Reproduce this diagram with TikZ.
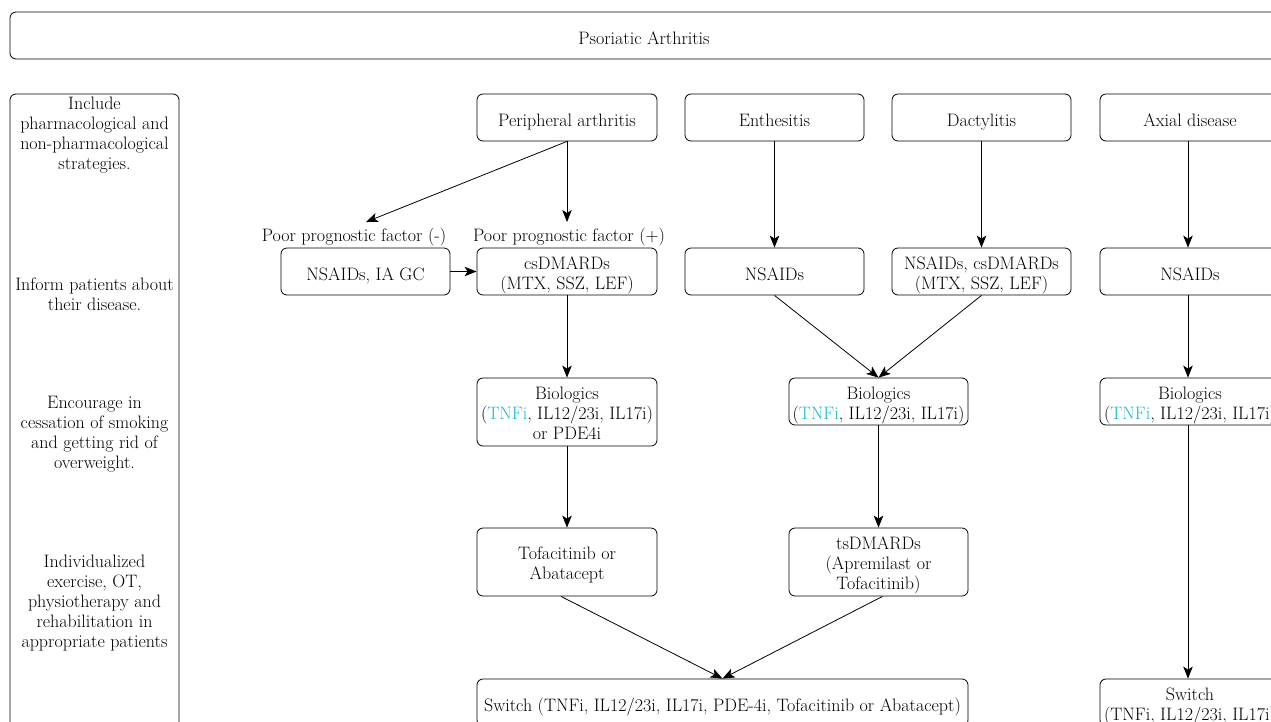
\documentclass[tikz,border=0pt]{standalone}
\usetikzlibrary{arrows.meta}
\definecolor{tnf}{RGB}{25,185,210}
\newcommand{\tnf}{\textcolor{tnf}{TNFi}}
% \bx{name}{x}{y}{width}{height}{text}
\newcommand{\bx}[6]{%
  \node[box, minimum width=#4pt, minimum height=#5pt] (#1) at (#2,#3) {};
  \node[btxt] (#1-t) at (#2,#3+4.5) {#6};}
\begin{document}
\begin{tikzpicture}[x=1pt,y=-1pt,
  every node/.style={font=\fontsize{18}{20}\selectfont},
  box/.style={draw, rounded corners=6pt, line width=0.8pt, inner sep=0pt},
  txt/.style={align=center, inner sep=0pt},
  btxt/.style={txt, execute at begin node=\strut, execute at end node=\strut},
  arr/.style={line width=0.8pt, -{Stealth[length=12pt,width=9.5pt,inset=3pt]}}]
\useasboundingbox (0,0) rectangle (1271,721);
\clip (0,0) rectangle (1271,721);
% title
\bx{title}{644}{35.5}{1268}{47}{Psoriatic Arthritis}
% left column
\node[box, minimum width=169pt, minimum height=666pt] (side) at (94.5,427) {};
\node[txt] (s1) at (94.5,135) {Include\\pharmacological and\\non-pharmacological\\strategies.};
\node[txt] (s2) at (94.5,294) {Inform patients about\\their disease.};
\node[txt] (s3) at (94.5,434) {Encourage in\\cessation of smoking\\and getting rid of\\overweight.};
\node[txt] (s4) at (94.5,602.5) {Individualized\\exercise, OT,\\physiotherapy and\\rehabilitation in\\appropriate patients};
% row 1
\bx{per}{567}{117.5}{180}{47}{Peripheral arthritis}
\bx{ent}{774.5}{117.5}{179}{47}{Enthesitis}
\bx{dac}{981.5}{117.5}{179}{47}{Dactylitis}
\bx{axi}{1190}{117.5}{180}{47}{Axial disease}
% labels
\node[btxt] (lm) at (354,237.5) {Poor prognostic factor (-)};
\node[btxt] (lp) at (569,237.5) {Poor prognostic factor (+)};
\coordinate (pm) at (366,222);
\coordinate (pp) at (567,222);
% row 2
\bx{nia}{365.5}{271.5}{169}{47}{NSAIDs, IA GC}
\bx{csd}{567}{271.5}{180}{47}{csDMARDs\\(MTX, SSZ, LEF)}
\bx{nse}{774.5}{271.5}{179}{47}{NSAIDs}
\bx{nsd}{981.5}{271.5}{179}{47}{NSAIDs, csDMARDs\\(MTX, SSZ, LEF)}
\bx{nsa}{1190}{271.5}{180}{47}{NSAIDs}
% row 3
\bx{bio1}{567}{412}{180}{68}{Biologics\\(\tnf, IL12/23i, IL17i)\\or PDE4i}
\bx{bio2}{878.5}{401.5}{179}{47}{Biologics\\(\tnf, IL12/23i, IL17i)}
\bx{bio3}{1190}{401.5}{180}{47}{Biologics\\(\tnf, IL12/23i, IL17i)}
% row 4
\bx{tof}{567}{562}{180}{68}{Tofacitinib or\\Abatacept}
\bx{tsd}{878.5}{562}{179}{68}{tsDMARDs\\(Apremilast or\\Tofacitinib)}
% row 5
\bx{sw1}{722.5}{702.5}{491}{47}{Switch (TNFi, IL12/23i, IL17i, PDE-4i, Tofacitinib or Abatacept)}
\bx{sw2}{1190}{702.5}{180}{47}{Switch\\(TNFi, IL12/23i, IL17i)}
% arrows
\draw[arr] (per.south) -- (pm);
\draw[arr] (per.south) -- (pp);
\draw[arr] (nia.east) -- (csd.west);
\draw[arr] (csd.south) -- (bio1.north);
\draw[arr] (ent.south) -- (nse.north);
\draw[arr] (dac.south) -- (nsd.north);
\draw[arr] (nse.south) -- (bio2.north);
\draw[arr] (nsd.south) -- (bio2.north);
\draw[arr] (axi.south -| 1188,0) -- (nsa.north -| 1188,0);
\draw[arr] (nsa.south -| 1188,0) -- (bio3.north -| 1188,0);
\draw[arr] (bio1.south) -- (tof.north);
\draw[arr] (bio2.south) -- (tsd.north);
\draw[arr] ([xshift=-6pt]tof.south) -- (sw1.north);
\draw[arr] ([xshift=4pt]tsd.south) -- (sw1.north);
\draw[arr] (bio3.south -| 1188,0) -- (sw2.north -| 1188,0);
\end{tikzpicture}
\end{document}
